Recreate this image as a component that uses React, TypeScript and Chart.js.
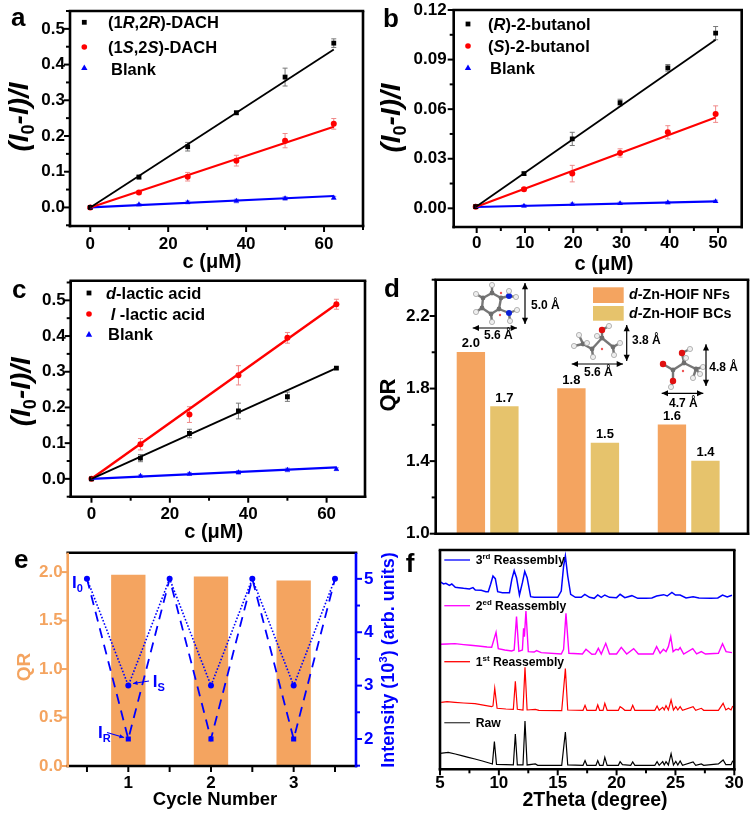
import React, { useEffect, useRef } from "react";
import { Chart, registerables } from "chart.js";

Chart.register(...registerables);

// ---------- data ----------
const concentrationAC = [0, 12.5, 25, 37.5, 50, 62.5];
const concentrationB = [-0.2, 9.8, 19.8, 29.7, 39.6, 49.5];

const dachR = [0, 0.085, 0.17, 0.265, 0.365, 0.46];
const dachRErr = [0.003, 0.005, 0.012, 0.005, 0.025, 0.012];
const dachRFit = [0, 0.442];
const dachS = [0, 0.042, 0.086, 0.131, 0.187, 0.234];
const dachSErr = [0.002, 0.005, 0.012, 0.015, 0.02, 0.015];
const dachSFit = [0, 0.226];
const blankA = [0, 0.008, 0.014, 0.018, 0.025, 0.027];
const blankAErr = [0.002, 0.003, 0.004, 0.005, 0.005, 0.004];
const blankAFit = [0, 0.032];

const butanolR = [0.001, 0.021, 0.042, 0.064, 0.085, 0.106];
const butanolRErr = [0.001, 0.001, 0.004, 0.002, 0.002, 0.004];
const butanolRFit = [0.0008, 0.102];
const butanolS = [0.001, 0.0115, 0.021, 0.0335, 0.046, 0.057];
const butanolSErr = [0.001, 0.001, 0.005, 0.0025, 0.004, 0.005];
const butanolSFit = [0.0008, 0.055];
const blankB = [0.001, 0.0015, 0.0025, 0.003, 0.0035, 0.0042];
const blankBErr = [0.0007, 0.0007, 0.0007, 0.0007, 0.0007, 0.0007];
const blankBFit = [0.0008, 0.0042];

const lacticD = [0, 0.058, 0.127, 0.19, 0.23, 0.31];
const lacticDErr = [0.003, 0.01, 0.012, 0.022, 0.013, 0.003];
const lacticDFit = [0, 0.31];
const lacticL = [0, 0.097, 0.18, 0.29, 0.395, 0.489];
const lacticLErr = [0.003, 0.016, 0.022, 0.027, 0.015, 0.014];
const lacticLFit = [0, 0.489];
const blankC = [0, 0.008, 0.014, 0.018, 0.025, 0.027];
const blankCErr = [0.002, 0.003, 0.004, 0.005, 0.005, 0.004];
const blankCFit = [0, 0.032];

const qrNFs = [2.0, 1.8, 1.6];
const qrBCs = [1.7, 1.5, 1.4];

const cycles = [1, 2, 3];
const cycleQR = [1.97, 1.95, 1.91];
const cycleAxis = [0.5, 1, 1.5, 2, 2.5, 3, 3.5];
const intensityS = [5, 3, 5, 3, 5, 3, 5];
const intensityR = [5, 2, 5, 2, 5, 2, 5];

type Pair = [number, number];
const xrdThird: Pair[] = [[5, 563], [5.3, 556], [5.5, 558], [5.8, 552], [6, 556], [6.3, 546], [6.6, 545], [7, 543], [7.5, 541], [7.8, 545], [8, 538], [8.5, 537], [8.9, 533], [9.1, 533], [9.3, 555], [9.5, 580], [9.7, 572], [9.9, 533], [10.3, 530], [10.9, 530], [11.1, 570], [11.3, 596], [11.5, 575], [11.75, 523], [12, 560], [12.2, 594], [12.4, 575], [12.7, 518], [13, 516], [14, 516], [15, 516], [15.3, 535], [15.5, 610], [15.65, 640], [15.85, 580], [16.1, 525], [16.5, 516], [17, 516], [17.3, 525], [17.7, 516], [18.1, 513], [18.4, 523], [18.7, 516], [19, 523], [19.4, 516], [20, 515], [20.3, 525], [20.7, 515], [21.3, 521], [21.8, 513], [22.5, 513], [23, 514], [23.4, 520], [24, 524], [24.3, 520], [24.7, 531], [25, 523], [25.4, 523], [25.9, 514], [26.5, 518], [27, 514], [28, 513], [28.6, 514], [29, 523], [29.4, 517], [29.8, 522]];
const xrdSecond: Pair[] = [[5, 375], [5.6, 376], [6.27, 377], [7, 374], [7.6, 372], [8.25, 370], [9, 367], [9.39, 366], [9.76, 411], [9.95, 362], [10.5, 358], [11.09, 355], [11.3, 358], [11.5, 458], [11.7, 354], [12, 358], [12.1, 423], [12.17, 398], [12.3, 475], [12.5, 353], [13, 352], [13.2, 356], [13.6, 350], [15.3, 346], [15.5, 360], [15.7, 468], [15.95, 348], [17.1, 346], [17.4, 360], [17.9, 345], [18.2, 346], [18.45, 363], [18.7, 346], [19.08, 378], [19.4, 346], [20, 346], [20.4, 366], [20.86, 346], [21.45, 362], [21.85, 346], [23.1, 346], [23.4, 368], [23.7, 348], [23.98, 360], [24.2, 353], [24.4, 368], [24.6, 398], [24.8, 353], [25.05, 360], [25.25, 358], [25.4, 365], [25.7, 346], [26.47, 362], [26.8, 346], [27.2, 353], [27.55, 346], [28.65, 348], [29, 377], [29.3, 353], [29.8, 350]];
const xrdFirst: Pair[] = [[5.1, 201], [5.6, 203], [6.27, 201], [7, 199], [7.97, 197], [8.8, 192], [9.39, 188], [9.5, 190], [9.65, 243], [9.85, 183], [10.6, 181], [11.23, 180], [11.4, 264], [11.57, 180], [12.05, 178], [12.22, 306], [12.4, 178], [13.1, 180], [13.4, 177], [15.34, 176], [15.65, 302], [15.85, 178], [17.15, 177], [17.32, 192], [17.48, 177], [18.25, 177], [18.4, 193], [18.56, 177], [18.85, 177], [19, 198], [19.2, 177], [20.15, 177], [20.3, 188], [20.5, 183], [20.7, 177], [21.2, 177], [21.37, 192], [21.55, 177], [23.25, 177], [23.44, 190], [23.62, 177], [23.92, 186], [24.05, 178], [24.2, 191], [24.4, 178], [24.63, 208], [24.83, 178], [25.03, 188], [25.2, 178], [25.4, 188], [25.6, 177], [26.5, 188], [26.72, 177], [27.2, 183], [27.4, 177], [28.65, 177], [29.05, 198], [29.28, 178], [29.5, 183], [29.72, 178], [29.87, 190]];
const xrdRaw: Pair[] = [[5, 48], [5.7, 51], [6.3, 46], [6.84, 41], [7.4, 36], [7.97, 31], [8.6, 25], [9.25, 18], [9.45, 16], [9.62, 83], [9.8, 15], [10.6, 14], [11.23, 13], [11.4, 106], [11.57, 13], [12.05, 13], [12.22, 145], [12.4, 13], [13.1, 16], [13.3, 12], [15.34, 12], [15.65, 112], [15.85, 13], [17.15, 12], [17.32, 26], [17.48, 12], [18.25, 12], [18.4, 26], [18.56, 12], [18.85, 12], [19, 36], [19.2, 12], [20.15, 12], [20.3, 23], [20.5, 14], [21.2, 12], [21.37, 22], [21.55, 12], [23.25, 12], [23.44, 23], [23.62, 12], [23.92, 23], [24.05, 13], [24.2, 23], [24.4, 13], [24.63, 47], [24.83, 13], [25.03, 24], [25.2, 13], [25.4, 25], [25.6, 12], [26.5, 22], [26.72, 12], [27.2, 16], [27.4, 12], [28.65, 16], [29.05, 28], [29.28, 14], [29.72, 14], [29.87, 26]];

// ---------- styling ----------
const FONT = "'Liberation Sans', Arial, sans-serif";
const BLACK = "#000000";
const RED = "#ff0000";
const BLUE = "#0000ff";
const ORANGE = "#f4a460";
const YELLOW = "#e6c36c";
const MAGENTA = "#ff00ff";

type Seg = { t: string; i?: boolean; sub?: boolean; sup?: boolean };
type Rich = { segs: Seg[]; x: number; y: number; size: number; color?: string; rotate?: boolean; center?: boolean };

function segFont(s: Seg, size: number) {
  const sz = s.sub || s.sup ? size * 0.65 : size;
  return `${s.i ? "italic " : ""}bold ${sz}px ${FONT}`;
}

// x, y are page coordinates; the ctx is already translated to the page origin
function drawRich(ctx: CanvasRenderingContext2D, r: Rich) {
  ctx.save();
  ctx.fillStyle = r.color || BLACK;
  ctx.textBaseline = "alphabetic";
  ctx.textAlign = "left";
  ctx.translate(r.x, r.y);
  if (r.rotate) ctx.rotate(-Math.PI / 2);
  let total = 0;
  for (const s of r.segs) {
    ctx.font = segFont(s, r.size);
    total += ctx.measureText(s.t).width;
  }
  let cx = r.center ? -total / 2 : 0;
  for (const s of r.segs) {
    ctx.font = segFont(s, r.size);
    const dy = s.sub ? r.size * 0.22 : s.sup ? -r.size * 0.4 : 0;
    ctx.fillText(s.t, cx, dy);
    cx += ctx.measureText(s.t).width;
  }
  ctx.restore();
}

function plain(t: string): Seg[] {
  return [{ t }];
}

type Box = { x: number; y: number; w: number; h: number };
type Frame = { l: number; r: number; t: number; b: number };
type Err = { xs: number[]; ys: number[]; errs: number[]; color: string };
type TickSpec = { id: string; side: "left" | "right" | "bottom"; major: number; origin?: number; color?: string; minorLen?: number; majorLen?: number };
type Deco = {
  box: Box;
  errs?: Err[];
  ticks: TickSpec[];
  edges?: { top: string; right: string; bottom: string; left: string };
  texts: Rich[];
  draw?: (ctx: CanvasRenderingContext2D, chart: any) => void;
};

function arrowHead(ctx: CanvasRenderingContext2D, x0: number, y0: number, x1: number, y1: number, size: number) {
  const a = Math.atan2(y1 - y0, x1 - x0);
  ctx.beginPath();
  ctx.moveTo(x1, y1);
  ctx.lineTo(x1 - size * Math.cos(a - 0.45), y1 - size * Math.sin(a - 0.45));
  ctx.lineTo(x1 - size * Math.cos(a + 0.45), y1 - size * Math.sin(a + 0.45));
  ctx.closePath();
  ctx.fill();
}

function arrow(ctx: CanvasRenderingContext2D, x0: number, y0: number, x1: number, y1: number, color: string, both: boolean, width: number, head: number) {
  ctx.save();
  ctx.strokeStyle = color;
  ctx.fillStyle = color;
  ctx.lineWidth = width;
  ctx.beginPath();
  ctx.moveTo(x0, y0);
  ctx.lineTo(x1, y1);
  ctx.stroke();
  arrowHead(ctx, x0, y0, x1, y1, head);
  if (both) arrowHead(ctx, x1, y1, x0, y0, head);
  ctx.restore();
}

function isMajorTick(v: number, major: number, origin = 0) {
  const q = (v - origin) / major;
  return Math.abs(q - Math.round(q)) < 1e-6;
}

const decoFor = (deco: Deco) => ({
  id: "deco",
  beforeDatasetsDraw(chart: any) {
    if (!deco.errs) return;
    const ctx = chart.ctx;
    const sx = chart.scales.x;
    const sy = chart.scales.y;
    ctx.save();
    ctx.lineWidth = 1;
    for (const e of deco.errs) {
      ctx.strokeStyle = e.color;
      e.xs.forEach((xv, i) => {
        const px = sx.getPixelForValue(xv);
        const hi = sy.getPixelForValue(e.ys[i] + e.errs[i]);
        const lo = sy.getPixelForValue(e.ys[i] - e.errs[i]);
        ctx.beginPath();
        ctx.moveTo(px, hi);
        ctx.lineTo(px, lo);
        ctx.moveTo(px - 2.5, hi);
        ctx.lineTo(px + 2.5, hi);
        ctx.moveTo(px - 2.5, lo);
        ctx.lineTo(px + 2.5, lo);
        ctx.stroke();
      });
    }
    ctx.restore();
  },
  afterDraw(chart: any) {
    const ctx: CanvasRenderingContext2D = chart.ctx;
    const a = chart.chartArea;
    const edges = deco.edges || { top: BLACK, right: BLACK, bottom: BLACK, left: BLACK };
    ctx.save();
    // tick marks
    for (const spec of deco.ticks) {
      const sc = chart.scales[spec.id];
      ctx.strokeStyle = spec.color || BLACK;
      ctx.lineWidth = 2;
      for (const t of sc.ticks) {
        const m = isMajorTick(t.value, spec.major, spec.origin);
        const len = m ? spec.majorLen ?? 6 : spec.minorLen ?? 4;
        const p = sc.getPixelForValue(t.value);
        ctx.beginPath();
        if (spec.side === "bottom") {
          ctx.moveTo(p, a.bottom);
          ctx.lineTo(p, a.bottom + len);
        } else if (spec.side === "left") {
          ctx.moveTo(a.left, p);
          ctx.lineTo(a.left - len, p);
        } else {
          ctx.moveTo(a.right, p);
          ctx.lineTo(a.right + len, p);
        }
        ctx.stroke();
      }
    }
    // frame
    ctx.lineWidth = 2.6;
    const side = (c: string, x0: number, y0: number, x1: number, y1: number) => {
      ctx.strokeStyle = c;
      ctx.beginPath();
      ctx.moveTo(x0, y0);
      ctx.lineTo(x1, y1);
      ctx.stroke();
    };
    side(edges.top, a.left - 1.3, a.top, a.right + 1.3, a.top);
    side(edges.bottom, a.left - 1.3, a.bottom, a.right + 1.3, a.bottom);
    side(edges.left, a.left, a.top, a.left, a.bottom + 1.3);
    side(edges.right, a.right, a.top, a.right, a.bottom + 1.3);
    ctx.restore();

    ctx.save();
    ctx.translate(-deco.box.x, -deco.box.y);
    if (deco.draw) deco.draw(ctx, chart);
    for (const t of deco.texts) drawRich(ctx, t);
    ctx.restore();
  },
});

function marker(ctx: CanvasRenderingContext2D, kind: string, x: number, y: number, color: string) {
  ctx.save();
  ctx.fillStyle = color;
  ctx.beginPath();
  if (kind === "rect") ctx.rect(x - 2.4, y - 2.4, 4.8, 4.8);
  else if (kind === "circle") ctx.arc(x, y, 2.8, 0, Math.PI * 2);
  else {
    ctx.moveTo(x, y - 3.2);
    ctx.lineTo(x + 3.2, y + 2.4);
    ctx.lineTo(x - 3.2, y + 2.4);
    ctx.closePath();
  }
  ctx.fill();
  ctx.restore();
}

function tickOpts(step: number, major: number, digits: number, padding: number, color = BLACK, origin = 0) {
  return {
    stepSize: step,
    autoSkip: false,
    includeBounds: false,
    maxRotation: 0,
    minRotation: 0,
    padding,
    color,
    font: { family: FONT, weight: "bold", size: 17 },
    callback: (v: number) => (isMajorTick(v, major, origin) ? v.toFixed(digits) : ""),
  };
}

const noLines = { grid: { display: false, drawTicks: false }, border: { display: false } };
// each axis gets a fixed band so that the plot frame lands exactly where the reference has it
const clearPad = (s: any) => { s.paddingTop = 0; s.paddingBottom = 0; s.paddingLeft = 0; s.paddingRight = 0; };
const fixedWidth = (n: number) => ({ afterFit: (s: any) => { s.width = n; clearPad(s); } });
const fixedHeight = (n: number) => ({ afterFit: (s: any) => { s.height = n; clearPad(s); } });

function pairs(xs: number[], ys: number[]) {
  return xs.map((x, i) => ({ x, y: ys[i] }));
}

function pointSet(label: string, xs: number[], ys: number[], color: string, style: string, radius: number) {
  return { type: "scatter", label, data: pairs(xs, ys), backgroundColor: color, borderColor: color, pointStyle: style, pointRadius: radius, pointBorderWidth: 0, showLine: false };
}

function fitSet(label: string, xs: number[], ys: number[], color: string, width: number) {
  const ends = [xs[0], xs[xs.length - 1]];
  return { type: "scatter", label, data: pairs(ends, ys), borderColor: color, backgroundColor: color, pointRadius: 0, showLine: true, borderWidth: width };
}

type Series = { label: string; ys: number[]; errs: number[]; fit: number[]; color: string; style: string; radius: number; width: number; errColor: string };

function titration(box: Box, f: Frame, xs: number[], series: Series[], xr: number[], yr: number[], xStep: number, xMajor: number, xPad: number, yStep: number, yMajor: number, yDigits: number, yPad: number, texts: Rich[], legend: { x: number; ys: number[] }) {
  const datasets: any[] = [];
  series.forEach((s) => datasets.push(fitSet(s.label + " fit", xs, s.fit, s.color, s.width)));
  series.forEach((s) => datasets.push(pointSet(s.label, xs, s.ys, s.color, s.style, s.radius)));
  const spec: Deco = {
    box,
    errs: series.map((s) => ({ xs, ys: s.ys, errs: s.errs, color: s.errColor })),
    ticks: [
      { id: "x", side: "bottom", major: xMajor },
      { id: "y", side: "left", major: yMajor },
    ],
    texts,
    draw: (ctx) => {
      series.forEach((s, i) => marker(ctx, s.style === "rect" ? "rect" : s.style === "circle" ? "circle" : "tri", legend.x, legend.ys[i], s.color));
    },
  };
  return {
    type: "scatter",
    data: { datasets },
    options: {
      responsive: false,
      animation: false,
      layout: { padding: { left: 0, bottom: 0, top: f.t - box.y, right: box.x + box.w - f.r } },
      plugins: { legend: { display: false }, tooltip: { enabled: false } },
      scales: {
        x: { type: "linear", min: xr[0], max: xr[1], ...noLines, ...fixedHeight(box.y + box.h - f.b), ticks: tickOpts(xStep, xMajor, 0, xPad) },
        y: { type: "linear", min: yr[0], max: yr[1], ...noLines, ...fixedWidth(f.l - box.x), ticks: tickOpts(yStep, yMajor, yDigits, yPad) },
      },
    },
    plugins: [decoFor(spec)],
  };
}

const yTitle: Seg[] = [
  { t: "(", i: true }, { t: "I", i: true }, { t: "0", sub: true }, { t: "-", i: true }, { t: "I", i: true }, { t: ")", i: true }, { t: "/", i: true }, { t: "I", i: true },
];
const concTitle: Seg[] = plain("c (\u03bcM)");

// molecules in panel d: decorative ball-and-stick drawings
type Atom = [number, number, string];
const MOLECULES: { atoms: Atom[]; bonds: [number, number][]; stars: [number, number][] }[] = [
  {
    atoms: [[492, 293, "c"], [501, 298, "c"], [499, 309, "c"], [491, 314, "c"], [482, 308, "c"], [483, 298, "c"], [509, 296, "n"], [509, 313, "n"], [492, 285, "h"], [476, 294, "h"], [476, 312, "h"], [492, 322, "h"], [516, 297, "h"], [509, 291, "h"], [517, 310, "h"], [510, 321, "h"]],
    bonds: [[0, 1], [1, 2], [2, 3], [3, 4], [4, 5], [5, 0], [1, 6], [2, 7], [0, 8], [5, 9], [4, 10], [3, 11], [6, 12], [6, 13], [7, 14], [7, 15]],
    stars: [[501, 293], [500, 315]],
  },
  {
    atoms: [[583, 344, "c"], [592, 349, "c"], [602, 338, "c"], [613, 347, "c"], [602, 330, "o"], [579, 335, "h"], [574, 346, "h"], [587, 343, "h"], [593, 357, "h"], [609, 326, "h"], [620, 343, "h"], [614, 355, "h"], [597, 336, "h"]],
    bonds: [[0, 1], [1, 2], [2, 3], [2, 4], [0, 5], [0, 6], [1, 8], [4, 9], [3, 10], [3, 11], [2, 12]],
    stars: [[602, 349]],
  },
  {
    atoms: [[663, 364, "o"], [673, 370, "c"], [673, 381, "o"], [671, 387, "h"], [684, 363, "c"], [682, 353, "o"], [690, 349, "h"], [696, 369, "c"], [703, 367, "h"], [693, 378, "h"], [700, 374, "h"], [686, 358, "h"]],
    bonds: [[0, 1], [1, 2], [2, 3], [1, 4], [4, 5], [5, 6], [4, 7], [7, 8], [7, 9], [7, 10]],
    stars: [[683, 371]],
  },
];

function drawMolecules(ctx: CanvasRenderingContext2D) {
  const fill: Record<string, string> = { c: "#6e6e6e", n: "#0a1fd8", o: "#e01010", h: "#eeeeee" };
  const rad: Record<string, number> = { c: 2.4, n: 3, o: 3.2, h: 2.6 };
  for (const m of MOLECULES) {
    ctx.save();
    ctx.strokeStyle = "#777777";
    ctx.lineWidth = 2.4;
    for (const [a, b] of m.bonds) {
      ctx.beginPath();
      ctx.moveTo(m.atoms[a][0], m.atoms[a][1]);
      ctx.lineTo(m.atoms[b][0], m.atoms[b][1]);
      ctx.stroke();
    }
    for (const [x, y, k] of m.atoms) {
      ctx.beginPath();
      ctx.arc(x, y, rad[k], 0, Math.PI * 2);
      ctx.fillStyle = fill[k];
      ctx.fill();
      if (k === "h") {
        ctx.lineWidth = 0.7;
        ctx.strokeStyle = "#999999";
        ctx.stroke();
        ctx.strokeStyle = "#777777";
        ctx.lineWidth = 2.4;
      }
    }
    ctx.fillStyle = "#ee5555";
    for (const [x, y] of m.stars) {
      ctx.beginPath();
      ctx.arc(x, y, 1.2, 0, Math.PI * 2);
      ctx.fill();
    }
    ctx.restore();
  }
}

function buildA() {
  const box = { x: 0, y: 0, w: 375, h: 275 };
  const f = { l: 70, r: 363, t: 11, b: 226 };
  return titration(box, f, concentrationAC, [
    { label: "(1R,2R)-DACH", ys: dachR, errs: dachRErr, fit: dachRFit, color: BLACK, style: "rect", radius: 3.4, width: 1.8, errColor: "#777777" },
    { label: "(1S,2S)-DACH", ys: dachS, errs: dachSErr, fit: dachSFit, color: RED, style: "circle", radius: 3, width: 2.2, errColor: "#f08a8a" },
    { label: "Blank", ys: blankA, errs: blankAErr, fit: blankAFit, color: BLUE, style: "triangle", radius: 3.2, width: 2.2, errColor: "#8a8af0" },
  ], [-5.2, 70], [-0.052, 0.55], 10, 20, 8, 0.05, 0.1, 1, 5, [
    { segs: plain("a"), x: 11, y: 26, size: 26 },
    { segs: [{ t: "(1" }, { t: "R", i: true }, { t: ",2" }, { t: "R", i: true }, { t: ")-DACH" }], x: 108, y: 28, size: 16.5 },
    { segs: [{ t: "(1" }, { t: "S", i: true }, { t: ",2" }, { t: "S", i: true }, { t: ")-DACH" }], x: 108, y: 53, size: 16.5 },
    { segs: plain("Blank"), x: 111, y: 75, size: 16.5 },
    { segs: concTitle, x: 212, y: 268, size: 20, center: true },
    { segs: yTitle, x: 28, y: 117, size: 28, rotate: true, center: true },
  ], { x: 84.3, ys: [22.3, 47, 67.7] });
}

function buildB() {
  const box = { x: 375, y: 0, w: 375, h: 275 };
  const f = { l: 453.7, r: 741.7, t: 10, b: 227 };
  return titration(box, f, concentrationB, [
    { label: "(R)-2-butanol", ys: butanolR, errs: butanolRErr, fit: butanolRFit, color: BLACK, style: "rect", radius: 3.4, width: 1.8, errColor: "#777777" },
    { label: "(S)-2-butanol", ys: butanolS, errs: butanolSErr, fit: butanolSFit, color: RED, style: "circle", radius: 3, width: 2.2, errColor: "#f08a8a" },
    { label: "Blank", ys: blankB, errs: blankBErr, fit: blankBFit, color: BLUE, style: "triangle", radius: 3.2, width: 2.2, errColor: "#8a8af0" },
  ], [-4.76, 54.9], [-0.0113, 0.12], 5, 10, 6, 0.015, 0.03, 2, 7, [
    { segs: plain("b"), x: 383, y: 27, size: 26 },
    { segs: [{ t: "(" }, { t: "R", i: true }, { t: ")-2-butanol" }], x: 488, y: 30, size: 16.5 },
    { segs: [{ t: "(" }, { t: "S", i: true }, { t: ")-2-butanol" }], x: 488, y: 52, size: 16.5 },
    { segs: plain("Blank"), x: 490, y: 74, size: 16.5 },
    { segs: concTitle, x: 604, y: 270, size: 20, center: true },
    { segs: yTitle, x: 400, y: 118, size: 28, rotate: true, center: true },
  ], { x: 468, ys: [24, 46, 67.7] });
}

function buildC() {
  const box = { x: 0, y: 275, w: 375, h: 269 };
  const f = { l: 70.7, r: 365, t: 280.7, b: 496.7 };
  return titration(box, f, concentrationAC, [
    { label: "d-lactic acid", ys: lacticD, errs: lacticDErr, fit: lacticDFit, color: BLACK, style: "rect", radius: 3.4, width: 1.8, errColor: "#777777" },
    { label: "l-lactic acid", ys: lacticL, errs: lacticLErr, fit: lacticLFit, color: RED, style: "circle", radius: 3, width: 2.4, errColor: "#f08a8a" },
    { label: "Blank", ys: blankC, errs: blankCErr, fit: blankCFit, color: BLUE, style: "triangle", radius: 3.2, width: 2.4, errColor: "#8a8af0" },
  ], [-5.3, 69.8], [-0.05, 0.555], 10, 20, 7, 0.05, 0.1, 1, 5, [
    { segs: plain("c"), x: 12, y: 298, size: 26 },
    { segs: [{ t: "d", i: true }, { t: "-lactic acid" }], x: 106, y: 299, size: 16.5 },
    { segs: [{ t: "l", i: true }, { t: " -lactic acid" }], x: 110.7, y: 320, size: 16.5 },
    { segs: plain("Blank"), x: 108, y: 340, size: 16.5 },
    { segs: concTitle, x: 213.7, y: 538, size: 20, center: true },
    { segs: yTitle, x: 30, y: 391.7, size: 28, rotate: true, center: true },
  ], { x: 89, ys: [293, 314, 334.3] });
}

function buildD() {
  const box = { x: 375, y: 275, w: 375, h: 269 };
  const f = { l: 435.7, r: 748, t: 279.7, b: 533.7 };
  const slotNF = qrNFs.map((_, i) => i * 3);
  const slotBC = qrBCs.map((_, i) => i * 3 + 1);
  const labels = (chart: any, ctx: CanvasRenderingContext2D) => {
    ctx.save();
    ctx.fillStyle = BLACK;
    ctx.textAlign = "center";
    ctx.textBaseline = "alphabetic";
    ctx.font = `bold 13px ${FONT}`;
    [0, 1].forEach((d) => {
      const meta = chart.getDatasetMeta(d);
      meta.data.forEach((bar: any, i: number) => {
        const v = (d === 0 ? qrNFs : qrBCs)[i];
        ctx.fillText(v.toFixed(1), bar.x + box.x, bar.y + box.y - 5);
      });
    });
    ctx.restore();
  };
  const spec: Deco = {
    box,
    ticks: [{ id: "y", side: "left", major: 0.4, origin: 1 }],
    texts: [
      { segs: plain("d"), x: 384, y: 297, size: 26 },
      { segs: plain("QR"), x: 395, y: 395, size: 22, rotate: true, center: true },
      { segs: [{ t: "d", i: true }, { t: "-Zn-HOIF NFs" }], x: 629, y: 299, size: 14.3 },
      { segs: [{ t: "d", i: true }, { t: "-Zn-HOIF BCs" }], x: 629, y: 318, size: 14.3 },
      { segs: plain("5.0 \u00c5"), x: 531, y: 309, size: 12 },
      { segs: plain("5.6 \u00c5"), x: 484, y: 339, size: 12 },
      { segs: plain("3.8 \u00c5"), x: 632, y: 344, size: 12 },
      { segs: plain("5.6 \u00c5"), x: 584, y: 376, size: 12 },
      { segs: plain("4.8 \u00c5"), x: 709.3, y: 371, size: 12 },
      { segs: plain("4.7 \u00c5"), x: 669, y: 407, size: 12 },
    ],
    draw: (ctx, chart) => {
      ctx.fillStyle = ORANGE;
      ctx.fillRect(593, 287.3, 30.7, 15.7);
      ctx.fillStyle = YELLOW;
      ctx.fillRect(593, 306, 30.7, 14.7);
      drawMolecules(ctx);
      arrow(ctx, 525, 283, 525, 324, BLACK, true, 1.2, 7);
      arrow(ctx, 472.7, 328, 517, 328, BLACK, true, 1.2, 7);
      arrow(ctx, 626.7, 325, 626.7, 361, BLACK, true, 1.2, 7);
      arrow(ctx, 571.7, 364, 623, 364, BLACK, true, 1.2, 7);
      arrow(ctx, 706, 344.3, 706, 386, BLACK, true, 1.2, 7);
      arrow(ctx, 661.7, 393.3, 703.3, 393.3, BLACK, true, 1.2, 7);
      labels(chart, ctx);
    },
  };
  return {
    type: "bar",
    data: {
      datasets: [
        { label: "d-Zn-HOIF NFs", data: pairs(slotNF, qrNFs), backgroundColor: ORANGE, barThickness: 27.7, grouped: false },
        { label: "d-Zn-HOIF BCs", data: pairs(slotBC, qrBCs), backgroundColor: YELLOW, barThickness: 27.7, grouped: false },
      ],
    },
    options: {
      responsive: false,
      animation: false,
      layout: { padding: { left: 0, top: f.t - box.y, right: box.x + box.w - f.r, bottom: box.y + box.h - f.b } },
      plugins: { legend: { display: false }, tooltip: { enabled: false } },
      scales: {
        x: { type: "linear", min: -1.05, max: 8.27, offset: false, ...fixedHeight(0), grid: { display: false, drawTicks: false, offset: false }, border: { display: false }, ticks: { display: false } },
        y: { type: "linear", min: 1, max: 2.4, ...noLines, ...fixedWidth(f.l - box.x), ticks: tickOpts(0.2, 0.4, 1, 6, BLACK, 1) },
      },
    },
    plugins: [decoFor(spec)],
  };
}

function buildE() {
  const box = { x: 0, y: 544, w: 400, h: 271 };
  const f = { l: 67.7, r: 356, t: 552.7, b: 766 };
  const spec: Deco = {
    box,
    ticks: [
      { id: "x", side: "bottom", major: 0.5 },
      { id: "yL", side: "left", major: 0.5, color: ORANGE },
      { id: "yR", side: "right", major: 1, color: BLUE },
    ],
    edges: { top: BLACK, bottom: BLACK, left: ORANGE, right: BLUE },
    texts: [
      { segs: plain("e"), x: 14, y: 568, size: 26 },
      { segs: plain("QR"), x: 30, y: 667, size: 19, rotate: true, center: true, color: ORANGE },
      { segs: plain("Cycle Number"), x: 215, y: 805, size: 18.5, center: true },
      { segs: [{ t: "Intensity (10" }, { t: "3", sup: true }, { t: ") (arb. units)" }], x: 394, y: 660, size: 18, rotate: true, center: true, color: BLUE },
      { segs: [{ t: "I" }, { t: "0", sub: true }], x: 72, y: 588, size: 17, color: BLUE },
      { segs: [{ t: "I" }, { t: "S", sub: true }], x: 152.7, y: 687, size: 17, color: BLUE },
      { segs: [{ t: "I" }, { t: "R", sub: true }], x: 98, y: 738, size: 17, color: BLUE },
    ],
    draw: (ctx) => {
      arrow(ctx, 149, 681, 133, 683.5, BLUE, false, 1.2, 5);
      arrow(ctx, 107, 732.5, 124, 737.5, BLUE, false, 1.2, 5);
    },
  };
  return {
    type: "bar",
    data: {
      datasets: [
        { type: "line", label: "IS", data: pairs(cycleAxis, intensityS), yAxisID: "yR", borderColor: BLUE, backgroundColor: BLUE, borderWidth: 1.6, borderDash: [1.6, 1.8], pointRadius: 3, pointBorderWidth: 0, order: 1 },
        { type: "line", label: "IR", data: pairs(cycleAxis, intensityR), yAxisID: "yR", borderColor: BLUE, backgroundColor: BLUE, borderWidth: 1.8, borderDash: [10, 7], pointStyle: "rect", pointRadius: (c: any) => (c.dataIndex % 2 ? 3.6 : 0), pointBorderWidth: 0, order: 1 },
        { type: "bar", label: "QR", data: pairs(cycles, cycleQR), yAxisID: "yL", backgroundColor: ORANGE, barThickness: 33.7, order: 2 },
      ],
    },
    options: {
      responsive: false,
      animation: false,
      layout: { padding: { left: 0, right: 0, bottom: 0, top: f.t - box.y } },
      plugins: { legend: { display: false }, tooltip: { enabled: false } },
      scales: {
        x: { type: "linear", min: 0.267, max: 3.754, offset: false, ...fixedHeight(box.y + box.h - f.b), grid: { display: false, drawTicks: false, offset: false }, border: { display: false }, ticks: tickOpts(0.5, 1, 0, 7) },
        yL: { type: "linear", position: "left", min: 0, max: 2.2, ...noLines, ...fixedWidth(f.l - box.x), ticks: tickOpts(0.5, 0.5, 1, 5, ORANGE) },
        yR: { type: "linear", position: "right", min: 1.494, max: 5.49, ...noLines, ...fixedWidth(box.x + box.w - f.r), ticks: tickOpts(0.5, 1, 0, 8, BLUE) },
      },
    },
    plugins: [decoFor(spec)],
  };
}

function buildF() {
  const box = { x: 400, y: 544, w: 350, h: 271 };
  const f = { l: 440, r: 734.3, t: 550, b: 769.3 };
  const curve = (label: string, pts: Pair[], color: string, width: number) => ({
    type: "scatter", label, data: pts.map((p) => ({ x: p[0], y: p[1] })), borderColor: color, backgroundColor: color, showLine: true, pointRadius: 0, borderWidth: width,
  });
  const spec: Deco = {
    box,
    ticks: [{ id: "x", side: "bottom", major: 5 }],
    texts: [
      { segs: plain("f"), x: 405.7, y: 572, size: 26 },
      { segs: plain("2Theta (degree)"), x: 595, y: 806, size: 19.5, center: true },
      { segs: [{ t: "3" }, { t: "rd", sup: true }, { t: " Reassembly" }], x: 475.7, y: 564, size: 12.2 },
      { segs: [{ t: "2" }, { t: "ed", sup: true }, { t: " Reassembly" }], x: 475.7, y: 609.5, size: 12.2 },
      { segs: [{ t: "1" }, { t: "st", sup: true }, { t: " Reassembly" }], x: 475.7, y: 666, size: 12.2 },
      { segs: plain("Raw"), x: 475.7, y: 727, size: 12.2 },
    ],
    draw: (ctx) => {
      ([[BLUE, 560], [MAGENTA, 605.7], [RED, 661.7], ["#444444", 722.7]] as [string, number][]).forEach(([c, y]) => {
        ctx.strokeStyle = c;
        ctx.lineWidth = 1.3;
        ctx.beginPath();
        ctx.moveTo(444.3, y);
        ctx.lineTo(470, y);
        ctx.stroke();
      });
    },
  };
  return {
    type: "scatter",
    data: {
      datasets: [
        curve("3rd Reassembly", xrdThird, BLUE, 1.5),
        curve("2ed Reassembly", xrdSecond, MAGENTA, 1.4),
        curve("1st Reassembly", xrdFirst, RED, 1.2),
        curve("Raw", xrdRaw, BLACK, 1.2),
      ],
    },
    options: {
      responsive: false,
      animation: false,
      layout: { padding: { left: f.l - box.x, bottom: 0, top: f.t - box.y, right: box.x + box.w - f.r } },
      plugins: { legend: { display: false }, tooltip: { enabled: false } },
      scales: {
        x: { type: "linear", min: 5, max: 30, ...noLines, ...fixedHeight(box.y + box.h - f.b), ticks: tickOpts(2.5, 5, 0, 4) },
        y: { type: "linear", min: 0, max: 658, ...noLines, ...fixedWidth(0), ticks: { display: false } },
      },
    },
    plugins: [decoFor(spec)],
  };
}

const BOXES: Box[] = [
  { x: 0, y: 0, w: 375, h: 275 },
  { x: 375, y: 0, w: 375, h: 275 },
  { x: 0, y: 275, w: 375, h: 269 },
  { x: 375, y: 275, w: 375, h: 269 },
  { x: 0, y: 544, w: 400, h: 271 },
  { x: 400, y: 544, w: 350, h: 271 },
];
const BUILDERS = [buildA, buildB, buildC, buildD, buildE, buildF];

export default function App() {
  const refs = useRef<(HTMLCanvasElement | null)[]>([]);
  useEffect(() => {
    document.body.style.margin = "0";
    document.body.style.background = "#ffffff";
    const charts = BUILDERS.map((b, i) => new Chart(refs.current[i] as HTMLCanvasElement, b() as any));
    return () => charts.forEach((c) => c.destroy());
  }, []);
  return (
    <div style={{ position: "relative", width: 750, height: 815, overflow: "hidden", background: "#fff" }}>
      {BOXES.map((b, i) => (
        <canvas
          key={i}
          ref={(el) => { refs.current[i] = el; }}
          width={b.w}
          height={b.h}
          style={{ position: "absolute", left: b.x, top: b.y, width: b.w, height: b.h, display: "block" }}
        />
      ))}
    </div>
  );
}
